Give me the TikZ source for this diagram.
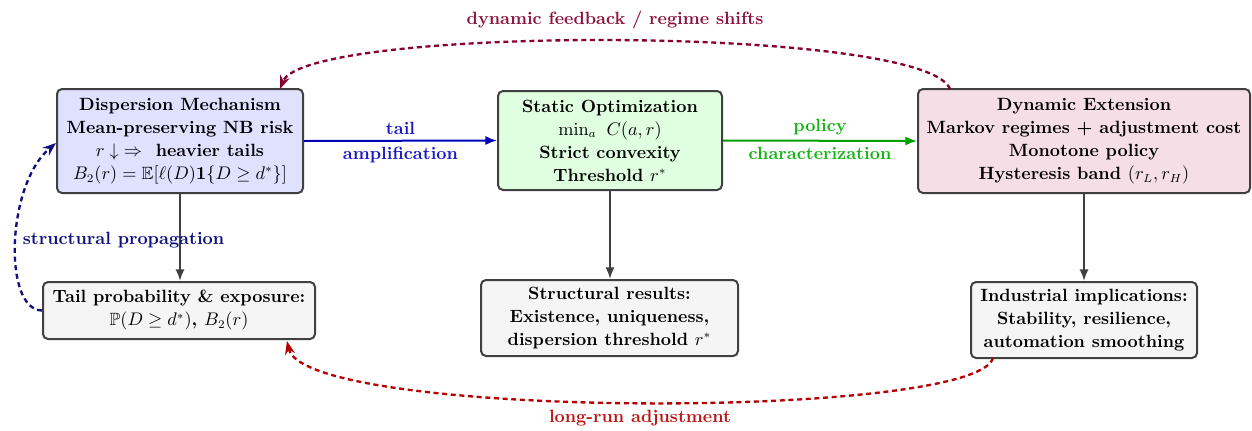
\documentclass[tikz,border=0pt]{standalone}
\usepackage{amsmath,amssymb}
\usetikzlibrary{arrows.meta}
\definecolor{edgegray}{RGB}{64,64,64}
\definecolor{dispfill}{RGB}{224,225,255}
\definecolor{statfill}{RGB}{224,255,224}
\definecolor{dynfill}{RGB}{246,222,230}
\definecolor{lowfill}{RGB}{245,245,245}
\definecolor{tailblue}{RGB}{0,0,185}
\definecolor{taillab}{RGB}{25,25,200}
\definecolor{polgreen}{RGB}{0,160,0}
\definecolor{pollab}{RGB}{20,180,20}
\definecolor{fbred}{RGB}{135,0,45}
\definecolor{fblab}{RGB}{140,20,60}
\definecolor{lrred}{RGB}{180,0,0}
\definecolor{lrlab}{RGB}{190,20,20}
\definecolor{navy}{RGB}{15,15,130}
\begin{document}
\begin{tikzpicture}[x=0.6pt,y=-0.6pt,font=\fontsize{10.65}{13.8}\selectfont\bfseries,
  box/.style={draw=edgegray,line width=1.2pt,rounded corners=3pt,align=center,inner sep=0pt},
  solidarrow/.style={line width=1.2pt,-{Latex[length=7pt,width=5.5pt]}},
  dasharrow/.style={line width=1.4pt,dash pattern=on 3pt off 2.2pt,-{Stealth[length=8pt,width=6pt]}},
  lab/.style={inner sep=3pt}]
\useasboundingbox (0,0) rectangle (1252,430);

\node[box,fill=dispfill,minimum width=147.6pt,minimum height=62.4pt] (disp) at (180,141)
  {Dispersion Mechanism\\ Mean-preserving NB risk\\ $r\downarrow\;\Rightarrow$\ \ heavier tails\\ $B_2(r)=\mathbb{E}[\ell(D)\mathbf{1}\{D\ge d^*\}]$};
\node[box,fill=statfill,minimum width=134.4pt,minimum height=59.4pt] (stat) at (610,140.5)
  {Static Optimization\\ $\min_a\ C(a,r)$\\ Strict convexity\\ Threshold $r^*$};
\node[box,fill=dynfill,minimum width=199.2pt,minimum height=62.4pt] (dyn) at (1084,141)
  {Dynamic Extension\\ Markov regimes + adjustment cost\\ Monotone policy\\ Hysteresis band $(r_L,r_H)$};
\node[box,fill=lowfill,minimum width=163.2pt,minimum height=34.2pt] (tailp) at (179,310.5)
  {Tail probability \& exposure:\\ $\mathbb{P}(D\ge d^*)$, $B_2(r)$};
\node[box,fill=lowfill,minimum width=154.2pt,minimum height=45.6pt] (struct) at (609.5,318)
  {Structural results:\\ Existence, uniqueness,\\ dispersion threshold $r^*$};
\node[box,fill=lowfill,minimum width=135.6pt,minimum height=45.6pt] (ind) at (1084,320)
  {Industrial implications:\\ Stability, resilience,\\ automation smoothing};

\draw[solidarrow,draw=tailblue,fill=tailblue] (disp.east) -- node[lab,above,text=taillab]{tail} node[lab,below,text=taillab]{amplification} (stat.west);
\draw[solidarrow,draw=polgreen,fill=polgreen] (stat.east) -- node[lab,above,text=pollab]{policy} node[lab,below,text=pollab]{characterization} (dyn.west);

\draw[solidarrow,draw=edgegray] (disp.south) -- (disp.south |- tailp.north);
\draw[solidarrow,draw=edgegray] (stat.south) -- (stat.south |- struct.north);
\draw[solidarrow,draw=edgegray] (dyn.south) -- (dyn.south |- ind.north);

\coordinate (fbs) at (950,89);
\coordinate (fbe) at (280,89);
\draw[dasharrow,draw=fbred] (fbs) .. controls (925,25) and (305,25) .. (fbe);
\node[text=fblab] (fbl) at (615,20) {dynamic feedback / regime shifts};

\coordinate (lrs) at (993,358);
\coordinate (lre) at (287,341);
\draw[dasharrow,draw=lrred] (lrs) .. controls (975,420) and (305,420) .. (lre);
\node[text=lrlab] (lrl) at (640,418) {long-run adjustment};

\coordinate (sps) at (tailp.west);
\coordinate (spe) at (56,143);
\draw[dasharrow,draw=navy] (sps) .. controls (3,310) and (6,185) .. (spe);
\node[text=navy,anchor=west] (spl) at (17,240) {structural propagation};
\end{tikzpicture}
\end{document}
